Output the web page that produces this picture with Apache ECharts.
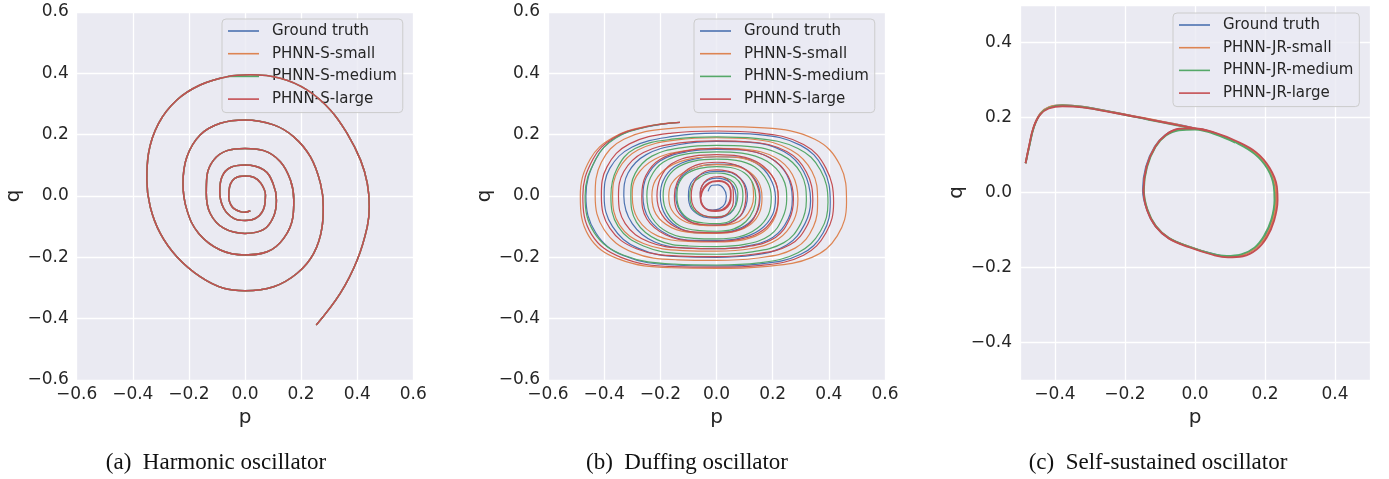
<!DOCTYPE html>
<html>
<head>
<meta charset="UTF-8">
<title>Phase portraits</title>
<script src="https://cdn.jsdelivr.net/npm/echarts/dist/echarts.min.js"></script>
<style>
  html, body { margin: 0; padding: 0; background: #fff; }
  #main { width: 1389px; height: 479px; }
</style>
</head>
<body>
<div id="main"></div>
<script type="text/javascript">
// ---- data: [p, q] ----
// (a) harmonic oscillator: all four models overlap the ground truth
var harmonicPath = [
  [0.254,-0.421],[0.340,-0.317],[0.400,-0.209],[0.436,-0.100],[0.443,-0.035],[0.436,0.041],[0.412,0.117],
  [0.364,0.204],[0.305,0.280],[0.221,0.346],[0.126,0.384],[0.019,0.395],[-0.064,0.389],[-0.160,0.362],
  [-0.243,0.313],[-0.308,0.237],[-0.344,0.139],[-0.350,0.052],[-0.338,-0.035],[-0.302,-0.122],[-0.243,-0.198],
  [-0.160,-0.263],[-0.076,-0.301],[0.0,-0.309],[0.102,-0.296],[0.186,-0.252],[0.245,-0.187],[0.275,-0.100],
  [0.279,-0.035],[0.269,0.041],[0.233,0.128],[0.174,0.193],[0.102,0.232],[0.0,0.248],[-0.088,0.237],
  [-0.160,0.199],[-0.207,0.128],[-0.221,0.041],[-0.207,-0.046],[-0.165,-0.122],[-0.088,-0.176],[0.0,-0.192],
  [0.079,-0.182],[0.138,-0.138],[0.171,-0.067],[0.174,-0.013],[0.162,0.052],[0.126,0.112],[0.067,0.148],
  [0.0,0.155],[-0.064,0.148],[-0.112,0.117],[-0.136,0.063],[-0.138,0.009],[-0.124,-0.057],[-0.076,-0.105],
  [0.0,-0.122],[0.067,-0.109],[0.102,-0.067],[0.112,-0.013],[0.100,0.041],[0.067,0.085],[0.0,0.101],
  [-0.052,0.093],[-0.082,0.063],[-0.090,0.014],[-0.076,-0.040],[-0.040,-0.073],[0.0,-0.080],[0.043,-0.070],
  [0.069,-0.035],[0.073,0.003],[0.057,0.041],[0.031,0.061],[0.0,0.065],[-0.035,0.058],[-0.055,0.030],
  [-0.058,-0.002],[-0.046,-0.035],[-0.017,-0.051],[0.0,-0.053],[0.019,-0.048]
];

// (b) duffing oscillator
var duffingTruth = [
  [-0.13,0.24],[-0.25,0.225],[-0.36,0.19],[-0.43,0.12],[-0.465,0.0],
  [-0.43,-0.12],[-0.33,-0.195],[-0.15,-0.225],[0.0,-0.228],[0.15,-0.222],[0.30,-0.19],[0.38,-0.12],[0.405,-0.02],
  [0.38,0.09],[0.30,0.165],[0.15,0.2],[0.0,0.205],[-0.15,0.195],[-0.30,0.16],[-0.38,0.09],[-0.40,0.0],
  [-0.37,-0.10],[-0.28,-0.17],[-0.13,-0.198],[0.0,-0.20],[0.13,-0.193],[0.25,-0.16],[0.315,-0.09],[0.335,-0.015],
  [0.31,0.08],[0.24,0.145],[0.12,0.175],[0.0,0.178],[-0.13,0.168],[-0.25,0.135],[-0.315,0.075],[-0.33,0.0],
  [-0.30,-0.09],[-0.22,-0.15],[-0.1,-0.17],[0.0,-0.172],[0.1,-0.165],[0.2,-0.135],[0.255,-0.075],[0.27,-0.01],
  [0.25,0.07],[0.19,0.125],[0.09,0.15],[0.0,0.152],[-0.1,0.145],[-0.2,0.115],[-0.25,0.06],[-0.262,0.0],
  [-0.24,-0.075],[-0.17,-0.128],[-0.08,-0.145],[0.0,-0.145],[0.08,-0.138],[0.155,-0.11],[0.2,-0.06],[0.21,-0.005],
  [0.19,0.06],[0.14,0.108],[0.07,0.127],[0.0,0.128],[-0.08,0.12],[-0.15,0.095],[-0.19,0.05],[-0.2,0.0],
  [-0.18,-0.065],[-0.125,-0.108],[-0.06,-0.12],[0.0,-0.12],[0.06,-0.113],[0.115,-0.088],[0.148,-0.045],[0.155,0.0],
  [0.14,0.05],[0.1,0.088],[0.05,0.103],[0.0,0.104],[-0.06,0.097],[-0.11,0.075],[-0.138,0.04],[-0.145,0.0],
  [-0.13,-0.05],[-0.09,-0.085],[-0.045,-0.095],[0.0,-0.095],[0.045,-0.088],[0.085,-0.065],[0.105,-0.032],[0.11,0.0],
  [0.1,0.04],[0.07,0.068],[0.035,0.079],[0.0,0.08],[-0.045,0.074],[-0.08,0.055],[-0.097,0.028],[-0.1,0.0],
  [-0.09,-0.04],[-0.06,-0.063],[-0.03,-0.071],[0.0,-0.072],[0.035,-0.064],[0.06,-0.045],[0.07,-0.015],
  [0.066,0.02],[0.048,0.045],[0.022,0.056],[0.0,0.058],[-0.03,0.052],[-0.05,0.035],[-0.058,0.01],
  [-0.055,-0.02],[-0.04,-0.04],[-0.015,-0.046],[0.01,-0.042],[0.03,-0.025],[0.035,0.0],[0.025,0.025],
  [0.005,0.036],[-0.015,0.035],[-0.03,0.015]
];
var duffingSmall = [
  [-0.13,0.24],[-0.25,0.227],[-0.37,0.19],[-0.45,0.12],[-0.485,0.0],
  [-0.455,-0.13],[-0.35,-0.205],[-0.16,-0.234],[0.0,-0.236],[0.17,-0.23],[0.34,-0.2],[0.43,-0.13],[0.463,-0.02],
  [0.44,0.1],[0.35,0.185],[0.17,0.222],[0.0,0.226],[-0.17,0.22],[-0.33,0.185],[-0.41,0.11],[-0.432,0.0],
  [-0.40,-0.11],[-0.3,-0.183],[-0.14,-0.208],[0.0,-0.21],[0.14,-0.203],[0.28,-0.17],[0.345,-0.1],[0.36,-0.015],
  [0.34,0.08],[0.265,0.15],[0.13,0.185],[0.0,0.19],[-0.14,0.183],[-0.28,0.15],[-0.35,0.085],[-0.37,0.0],
  [-0.345,-0.095],[-0.26,-0.155],[-0.12,-0.178],[0.0,-0.18],[0.12,-0.172],[0.22,-0.14],[0.275,-0.08],[0.29,-0.01],
  [0.27,0.07],[0.21,0.125],[0.1,0.152],[0.0,0.155],[-0.11,0.148],[-0.22,0.12],[-0.285,0.065],[-0.30,0.0],
  [-0.28,-0.075],[-0.21,-0.13],[-0.1,-0.148],[0.0,-0.15],[0.1,-0.142],[0.17,-0.115],[0.21,-0.065],[0.22,-0.005],
  [0.205,0.055],[0.155,0.1],[0.08,0.125],[0.0,0.128],[-0.09,0.122],[-0.17,0.095],[-0.218,0.05],[-0.23,0.0],
  [-0.215,-0.06],[-0.16,-0.103],[-0.08,-0.12],[0.0,-0.122],[0.07,-0.115],[0.125,-0.09],[0.155,-0.05],[0.162,-0.005],
  [0.15,0.045],[0.11,0.083],[0.05,0.1],[0.0,0.102],[-0.06,0.097],[-0.12,0.075],[-0.16,0.04],[-0.17,0.0],
  [-0.16,-0.045],[-0.12,-0.08],[-0.06,-0.095],[0.0,-0.097],[0.06,-0.09],[0.1,-0.07],[0.125,-0.035],[0.132,0.0],
  [0.13,0.03],[0.126,0.047]
];
var duffingMedium = [
  [-0.13,0.24],[-0.25,0.225],[-0.36,0.188],[-0.43,0.12],[-0.468,0.0],
  [-0.435,-0.12],[-0.33,-0.193],[-0.15,-0.222],[0.0,-0.225],[0.15,-0.218],[0.29,-0.185],[0.37,-0.115],[0.397,-0.02],
  [0.37,0.085],[0.29,0.155],[0.14,0.188],[0.0,0.193],[-0.15,0.186],[-0.29,0.155],[-0.355,0.088],[-0.376,0.0],
  [-0.35,-0.1],[-0.26,-0.163],[-0.12,-0.188],[0.0,-0.19],[0.12,-0.183],[0.24,-0.152],[0.3,-0.09],[0.32,-0.015],
  [0.3,0.075],[0.23,0.135],[0.11,0.162],[0.0,0.165],[-0.12,0.158],[-0.23,0.13],[-0.29,0.073],[-0.305,0.0],
  [-0.285,-0.085],[-0.21,-0.143],[-0.1,-0.163],[0.0,-0.165],[0.1,-0.158],[0.19,-0.128],[0.235,-0.072],[0.25,-0.01],
  [0.235,0.06],[0.18,0.113],[0.09,0.14],[0.0,0.144],[-0.1,0.138],[-0.19,0.11],[-0.235,0.06],[-0.248,0.0],
  [-0.23,-0.07],[-0.17,-0.12],[-0.08,-0.138],[0.0,-0.14],[0.08,-0.133],[0.145,-0.105],[0.185,-0.06],[0.195,-0.005],
  [0.18,0.05],[0.135,0.095],[0.07,0.116],[0.0,0.12],[-0.08,0.114],[-0.145,0.09],[-0.18,0.05],[-0.19,0.0],
  [-0.175,-0.055],[-0.13,-0.098],[-0.06,-0.113],[0.0,-0.115],[0.06,-0.108],[0.105,-0.083],[0.132,-0.045],[0.14,-0.005],
  [0.13,0.04],[0.1,0.075],[0.05,0.093],[0.0,0.096],[-0.06,0.09],[-0.11,0.07],[-0.135,0.038],[-0.141,0.0],
  [-0.13,-0.045],[-0.095,-0.077],[-0.045,-0.088],[0.0,-0.09],[0.045,-0.083],[0.075,-0.06],[0.09,-0.03],[0.094,0.0],
  [0.088,0.035],[0.065,0.06],[0.03,0.073],[0.0,0.075],[-0.04,0.07],[-0.075,0.05],[-0.092,0.025],[-0.095,0.0],
  [-0.088,-0.035],[-0.065,-0.058],[-0.03,-0.067],[0.0,-0.068],[0.035,-0.062],[0.062,-0.042],[0.074,-0.015],
  [0.076,0.01],[0.068,0.035],[0.05,0.052],[0.025,0.06]
];
var duffingLarge = [
  [-0.13,0.24],[-0.25,0.226],[-0.365,0.19],[-0.44,0.12],[-0.476,0.0],
  [-0.445,-0.125],[-0.34,-0.2],[-0.155,-0.23],[0.0,-0.232],[0.16,-0.226],[0.31,-0.193],[0.39,-0.12],[0.417,-0.02],
  [0.39,0.09],[0.31,0.168],[0.15,0.206],[0.0,0.212],[-0.16,0.205],[-0.31,0.17],[-0.39,0.095],[-0.41,0.0],
  [-0.38,-0.105],[-0.285,-0.172],[-0.13,-0.196],[0.0,-0.198],[0.13,-0.19],[0.26,-0.16],[0.325,-0.092],[0.343,-0.015],
  [0.32,0.078],[0.25,0.145],[0.12,0.176],[0.0,0.18],[-0.13,0.173],[-0.26,0.142],[-0.33,0.08],[-0.349,0.0],
  [-0.325,-0.09],[-0.24,-0.15],[-0.11,-0.17],[0.0,-0.172],[0.11,-0.165],[0.21,-0.135],[0.26,-0.075],[0.274,-0.01],
  [0.255,0.065],[0.195,0.122],[0.095,0.15],[0.0,0.155],[-0.1,0.148],[-0.2,0.12],[-0.252,0.066],[-0.266,0.0],
  [-0.248,-0.075],[-0.18,-0.127],[-0.085,-0.146],[0.0,-0.148],[0.09,-0.14],[0.165,-0.112],[0.208,-0.062],[0.22,-0.005],
  [0.205,0.055],[0.155,0.105],[0.08,0.13],[0.0,0.135],[-0.08,0.13],[-0.16,0.105],[-0.2,0.058],[-0.212,0.0],
  [-0.195,-0.06],[-0.145,-0.102],[-0.07,-0.118],[0.0,-0.12],[0.07,-0.113],[0.12,-0.088],[0.145,-0.048],[0.153,-0.005],
  [0.14,0.045],[0.105,0.085],[0.05,0.106],[0.0,0.11],[-0.06,0.104],[-0.11,0.082],[-0.14,0.045],[-0.15,0.0],
  [-0.14,-0.048],[-0.1,-0.082],[-0.05,-0.093],[0.0,-0.095],[0.05,-0.088],[0.085,-0.065],[0.1,-0.035],[0.105,0.0],
  [0.097,0.04],[0.07,0.07],[0.035,0.082],[0.0,0.085],[-0.04,0.08],[-0.07,0.06],[-0.086,0.03],[-0.09,0.0],
  [-0.082,-0.035],[-0.058,-0.058],[-0.028,-0.068],[0.0,-0.07],[0.03,-0.064],[0.05,-0.045],[0.06,-0.02],[0.06,0.01],
  [0.055,0.035],[0.038,0.055],[0.015,0.063],[-0.01,0.062],[-0.035,0.052],[-0.052,0.033],[-0.058,0.01],[-0.057,-0.015],
  [-0.048,-0.035],[-0.03,-0.047],[-0.005,-0.05],[0.02,-0.047],[0.04,-0.035],[0.051,-0.015],[0.052,0.01],
  [0.047,0.03],[0.032,0.045],[0.01,0.05],[-0.015,0.048],[-0.037,0.037],[-0.052,0.018],[-0.056,-0.005],
  [-0.05,-0.028],[-0.035,-0.043],[-0.012,-0.047],[0.012,-0.046],[0.033,-0.036],[0.046,-0.018],[0.05,0.005],
  [0.046,0.028],[0.03,0.043],[0.008,0.048],[-0.015,0.046],[-0.035,0.034],[-0.05,0.015],[-0.055,-0.005]
];

// (c) self-sustained oscillator
var selfTruth = [
  [-0.484,0.078],[-0.474,0.122],[-0.46,0.176],[-0.441,0.211],[-0.417,0.227],[-0.379,0.233],[-0.322,0.229],
  [-0.227,0.213],[-0.132,0.195],[-0.056,0.182],[0.0,0.171],[0.058,0.158],[0.115,0.136],[0.172,0.105],
  [0.21,0.065],[0.229,0.016],[0.231,-0.02],[0.221,-0.073],[0.2,-0.117],[0.172,-0.148],[0.134,-0.166],
  [0.091,-0.17],[0.048,-0.163],[-0.018,-0.144],[-0.075,-0.122],[-0.113,-0.09],[-0.137,-0.046],[-0.149,0.007],
  [-0.14,0.069],[-0.115,0.122],[-0.085,0.153],[-0.047,0.168],[0.0,0.17],[0.058,0.157],[0.115,0.135]
];
var selfSmall = [
  [-0.484,0.078],[-0.474,0.123],[-0.46,0.177],[-0.441,0.212],[-0.417,0.228],[-0.379,0.233],[-0.322,0.229],
  [-0.227,0.213],[-0.132,0.196],[-0.056,0.182],[0.0,0.171],[0.058,0.158],[0.115,0.136],[0.173,0.105],
  [0.211,0.065],[0.23,0.016],[0.232,-0.02],[0.223,-0.072],[0.204,-0.115],[0.177,-0.145],[0.139,-0.166],
  [0.094,-0.171],[0.048,-0.164],[-0.018,-0.144],[-0.074,-0.122],[-0.112,-0.09],[-0.136,-0.046],[-0.147,0.007],
  [-0.138,0.069],[-0.114,0.122],[-0.084,0.153],[-0.046,0.168],[0.0,0.17],[0.058,0.157],[0.115,0.135]
];
var selfMedium = [
  [-0.484,0.078],[-0.474,0.121],[-0.46,0.175],[-0.441,0.21],[-0.417,0.226],[-0.379,0.232],[-0.322,0.228],
  [-0.227,0.212],[-0.132,0.194],[-0.056,0.18],[0.0,0.169],[0.058,0.156],[0.115,0.134],[0.17,0.103],
  [0.207,0.063],[0.225,0.016],[0.227,-0.02],[0.218,-0.072],[0.197,-0.116],[0.17,-0.147],[0.132,-0.165],
  [0.09,-0.169],[0.047,-0.163],[-0.018,-0.144],[-0.075,-0.121],[-0.112,-0.089],[-0.136,-0.045],[-0.146,0.007],
  [-0.137,0.068],[-0.113,0.121],[-0.084,0.151],[-0.046,0.166],[0.0,0.168],[0.058,0.155],[0.115,0.133]
];
var selfLarge = [
  [-0.484,0.078],[-0.475,0.12],[-0.462,0.172],[-0.443,0.207],[-0.418,0.224],[-0.379,0.23],[-0.322,0.227],
  [-0.227,0.212],[-0.132,0.195],[-0.056,0.181],[0.0,0.171],[0.058,0.159],[0.116,0.138],[0.175,0.107],
  [0.213,0.066],[0.234,0.016],[0.236,-0.02],[0.226,-0.075],[0.205,-0.12],[0.176,-0.152],[0.137,-0.17],
  [0.094,-0.173],[0.05,-0.166],[-0.017,-0.146],[-0.074,-0.123],[-0.112,-0.091],[-0.137,-0.047],[-0.147,0.007],
  [-0.138,0.07],[-0.113,0.123],[-0.083,0.154],[-0.045,0.17],[0.0,0.171],[0.058,0.159],[0.116,0.138]
];

var namesS = ['Ground truth', 'PHNN-S-small', 'PHNN-S-medium', 'PHNN-S-large'];
var namesJR = ['Ground truth', 'PHNN-JR-small', 'PHNN-JR-medium', 'PHNN-JR-large'];
var captions = ['(a)  Harmonic oscillator', '(b)  Duffing oscillator', '(c)  Self-sustained oscillator'];
var colors = ['#4C72B0', '#DD8452', '#55A868', '#C44E52'];

// ---- chart ----
var ink = '#262626';
var sans = 'DejaVu Sans';

function fmt(v) {
  if (Math.abs(v) < 1e-9) return '0.0';
  return (v < 0 ? '\u2212' : '') + Math.abs(v).toFixed(1);
}
function fmtC(v) {
  // panel c shows labels only at multiples of 0.2
  var k = Math.round(v / 0.2);
  if (Math.abs(v - k * 0.2) > 1e-6 || Math.abs(v) > 0.45) return '';
  return fmt(v);
}

function makeGrid(left, top, width, height) {
  return { left: left, top: top, width: width, height: height, show: true,
           backgroundColor: '#EAEAF2', borderWidth: 0 };
}

function makeAxis(idx, dir, range, interval, name, formatter) {
  var ax = {
    type: 'value', gridIndex: idx, min: range[0], max: range[1],
    name: name, nameLocation: 'middle',
    nameTextStyle: { fontSize: 20, color: ink, fontFamily: sans },
    axisLine: { show: false }, axisTick: { show: false },
    axisLabel: { fontSize: 17, color: ink, fontFamily: sans, formatter: formatter },
    splitLine: { show: true, lineStyle: { color: '#ffffff', width: 1.3 } }
  };
  if (interval) ax.interval = interval;
  if (dir === 'x') {
    ax.nameGap = 27;
    ax.axisLabel.margin = 6;
  } else {
    ax.nameGap = 53;
    ax.nameRotate = 90;
    ax.axisLabel.margin = 8;
  }
  return ax;
}

function makeLegend(left, top, names) {
  return {
    orient: 'vertical', left: left, top: top, data: names,
    icon: 'rect', itemWidth: 31, itemHeight: 1.6, itemGap: 7.7,
    padding: [4.5, 6, 6, 6],
    backgroundColor: 'rgba(234,234,242,0.8)',
    borderColor: '#cccccc', borderWidth: 1, borderRadius: 4,
    textStyle: { fontSize: 15, color: ink, fontFamily: sans, lineHeight: 15, padding: [0, 0, 0, 8] },
    selectedMode: false
  };
}

function makeSeries(idx, names, datas, width) {
  return datas.map(function (d, i) {
    return {
      name: names[i], type: 'line', xAxisIndex: idx, yAxisIndex: idx,
      data: d, showSymbol: false, symbol: 'none', smooth: 0.4,
      lineStyle: { color: colors[i], width: width },
      itemStyle: { color: colors[i] },
      silent: true, z: 2 + i
    };
  });
}

var myChart = echarts.init(document.getElementById('main'), null, { renderer: 'canvas' });

var option = {
  backgroundColor: '#ffffff',
  animation: false,
  color: colors,
  grid: [
    makeGrid(76.7, 12, 336.6, 368),
    makeGrid(548, 12, 337, 368),
    makeGrid(1020, 5, 350, 375)
  ],
  xAxis: [
    makeAxis(0, 'x', [-0.6, 0.6], 0.2, 'p', fmt),
    makeAxis(1, 'x', [-0.6, 0.6], 0.2, 'p', fmt),
    makeAxis(2, 'x', [-0.5, 0.5], null, 'p', fmtC)
  ],
  yAxis: [
    makeAxis(0, 'y', [-0.6, 0.6], 0.2, 'q', fmt),
    makeAxis(1, 'y', [-0.6, 0.6], 0.2, 'q', fmt),
    makeAxis(2, 'y', [-0.5, 0.5], null, 'q', fmtC)
  ],
  legend: [
    makeLegend(222, 19, namesS),
    makeLegend(694, 19, namesS),
    makeLegend(1173, 13, namesJR)
  ],
  series: [].concat(
    makeSeries(0, namesS, [harmonicPath, harmonicPath, harmonicPath, harmonicPath], 1.5),
    makeSeries(1, namesS, [duffingTruth, duffingSmall, duffingMedium, duffingLarge], 1.2),
    makeSeries(2, namesJR, [selfTruth, selfSmall, selfMedium, selfLarge], 1.8)
  ),
  graphic: [216, 687, 1158].map(function (cx, i) {
    return {
      type: 'text', x: cx, y: 463,
      style: { text: captions[i], fill: '#111', textAlign: 'center', textVerticalAlign: 'middle',
               font: '23px "Liberation Serif", serif' }
    };
  })
};

myChart.setOption(option);
</script>
</body>
</html>
